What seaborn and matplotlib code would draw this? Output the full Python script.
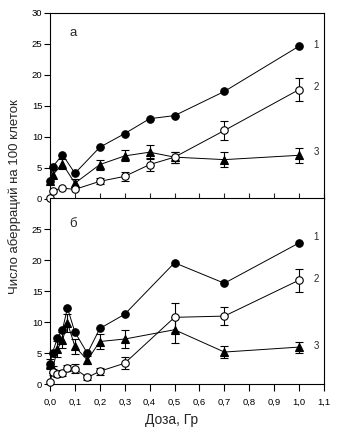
import matplotlib
matplotlib.use("Agg")
import matplotlib.pyplot as plt
import seaborn as sns
import numpy as np

# Panel "а"
dose_a = [0.0, 0.01, 0.05, 0.1, 0.2, 0.3, 0.4, 0.5, 0.7, 1.0]
s1_a = [2.9, 5.1, 7.1, 4.1, 8.3, 10.5, 12.9, 13.4, 17.3, 24.6]
s2_a = [0.1, 1.3, 1.7, 1.5, 2.8, 3.6, 5.5, 6.7, 11.0, 17.6]
s2_a_err = [0, 0, 0, 0, 0.5, 0.7, 1.0, 0.9, 1.5, 1.9]
s3_a = [2.8, 3.8, 5.6, 2.5, 5.5, 6.9, 7.5, 6.7, 6.3, 7.0]
s3_a_err = [0, 0, 0.8, 0.6, 0.8, 0.9, 1.1, 0.9, 1.2, 1.2]

# Panel "б"
dose_b = [0.0, 0.01, 0.03, 0.05, 0.07, 0.1, 0.15, 0.2, 0.3, 0.5, 0.7, 1.0]
s1_b = [3.3, 5.1, 7.5, 8.8, 12.3, 8.4, 5.0, 9.0, 11.3, 19.6, 16.3, 22.8]
s2_b = [0.3, 2.0, 1.7, 1.8, 2.6, 2.5, 1.1, 2.1, 3.4, 10.8, 11.0, 16.8]
s2_b_err = [0, 0.5, 0.5, 0.5, 0.5, 0.7, 0.4, 0.6, 1.0, 2.3, 1.5, 1.85]
s3_b = [3.3, 2.4, 5.7, 7.1, 9.9, 6.1, 3.9, 6.9, 7.3, 8.8, 5.2, 6.0]
s3_b_err = [0.8, 0.6, 1.3, 1.3, 1.4, 1.2, 0.6, 1.2, 1.5, 2.1, 1.0, 0.9]

x_ticks = [0.0, 0.1, 0.2, 0.3, 0.4, 0.5, 0.6, 0.7, 0.8, 0.9, 1.0, 1.1]
x_tick_labels = ["0,0", "0,1", "0,2", "0,3", "0,4", "0,5", "0,6", "0,7", "0,8", "0,9", "1,0", "1,1"]
y_ticks_a = [0, 5, 10, 15, 20, 25, 30]
y_ticks_b = [0, 5, 10, 15, 20, 25]
series_labels = ["1", "2", "3"]

sns.set_style("ticks")
plt.rcParams["font.family"] = ["Liberation Sans", "DejaVu Sans"]

fig = plt.figure(figsize=(3.37, 4.36), dpi=100)
ax_a = fig.add_axes([0.1484, 0.5443, 0.813, 0.4266])
ax_b = fig.add_axes([0.1484, 0.1186, 0.813, 0.4266])

styles = [
    dict(marker="o", markerfacecolor="black", markeredgecolor="black"),
    dict(marker="o", markerfacecolor="white", markeredgecolor="black"),
    dict(marker="^", markerfacecolor="black", markeredgecolor="black"),
]


def draw_series(ax, x, y, err, style):
    if err is not None:
        xs = [a for a, e in zip(x, err) if e > 0]
        ys = [b for b, e in zip(y, err) if e > 0]
        es = [e for e in err if e > 0]
        ax.errorbar(xs, ys, yerr=es, fmt="none", ecolor="black",
                    elinewidth=0.8, capsize=2.6, capthick=0.8, zorder=2,
                    clip_on=False)
    sns.lineplot(x=x, y=y, ax=ax, color="black", linewidth=0.7,
                 markersize=5.4, markeredgewidth=0.8, estimator=None,
                 sort=False, zorder=3, clip_on=False, **style)


draw_series(ax_a, dose_a, s3_a, s3_a_err, styles[2])
draw_series(ax_a, dose_a, s2_a, s2_a_err, styles[1])
draw_series(ax_a, dose_a, s1_a, None, styles[0])

draw_series(ax_b, dose_b, s3_b, s3_b_err, styles[2])
draw_series(ax_b, dose_b, s2_b, s2_b_err, styles[1])
draw_series(ax_b, dose_b, s1_b, None, styles[0])

for ax in (ax_a, ax_b):
    ax.set_xlim(0, 1.1)
    ax.set_ylim(0, 30)
    ax.set_xticks(x_ticks)
    ax.set_xlabel("")
    ax.set_ylabel("")
    for sp in ax.spines.values():
        sp.set_visible(True)
        sp.set_linewidth(0.8)
        sp.set_color("black")
    ax.tick_params(axis="y", direction="out", length=4, width=0.8,
                   labelsize=6.8, pad=1.5, colors="black")

ax_a.set_yticks(y_ticks_a)
ax_a.tick_params(axis="x", direction="in", length=4, width=0.8,
                 labelbottom=False)
ax_b.set_yticks(y_ticks_b)
ax_b.set_xticklabels(x_tick_labels)
ax_b.tick_params(axis="x", direction="out", length=5, width=0.8,
                 labelsize=6.8, pad=5, colors="black")

label_y_a = [24.8, 18.0, 7.5]
label_y_b = [23.8, 17.0, 6.2]
for lab, ya, yb in zip(series_labels, label_y_a, label_y_b):
    ax_a.text(1.058, ya, lab, fontsize=7, ha="left", va="center")
    ax_b.text(1.058, yb, lab, fontsize=7, ha="left", va="center")

ax_a.text(0.092, 26.7, "а", fontsize=9.5, ha="center", va="center")
ax_b.text(0.092, 25.9, "б", fontsize=9.5, ha="center", va="center")

fig.text(0.042, 0.55, "Число аберраций на 100 клеток", rotation=90,
         fontsize=9.5, ha="center", va="center")
fig.text(0.51, 0.037, "Доза, Гр", fontsize=10, ha="center", va="center")

fig.savefig("out.png", dpi=100, facecolor="white")
